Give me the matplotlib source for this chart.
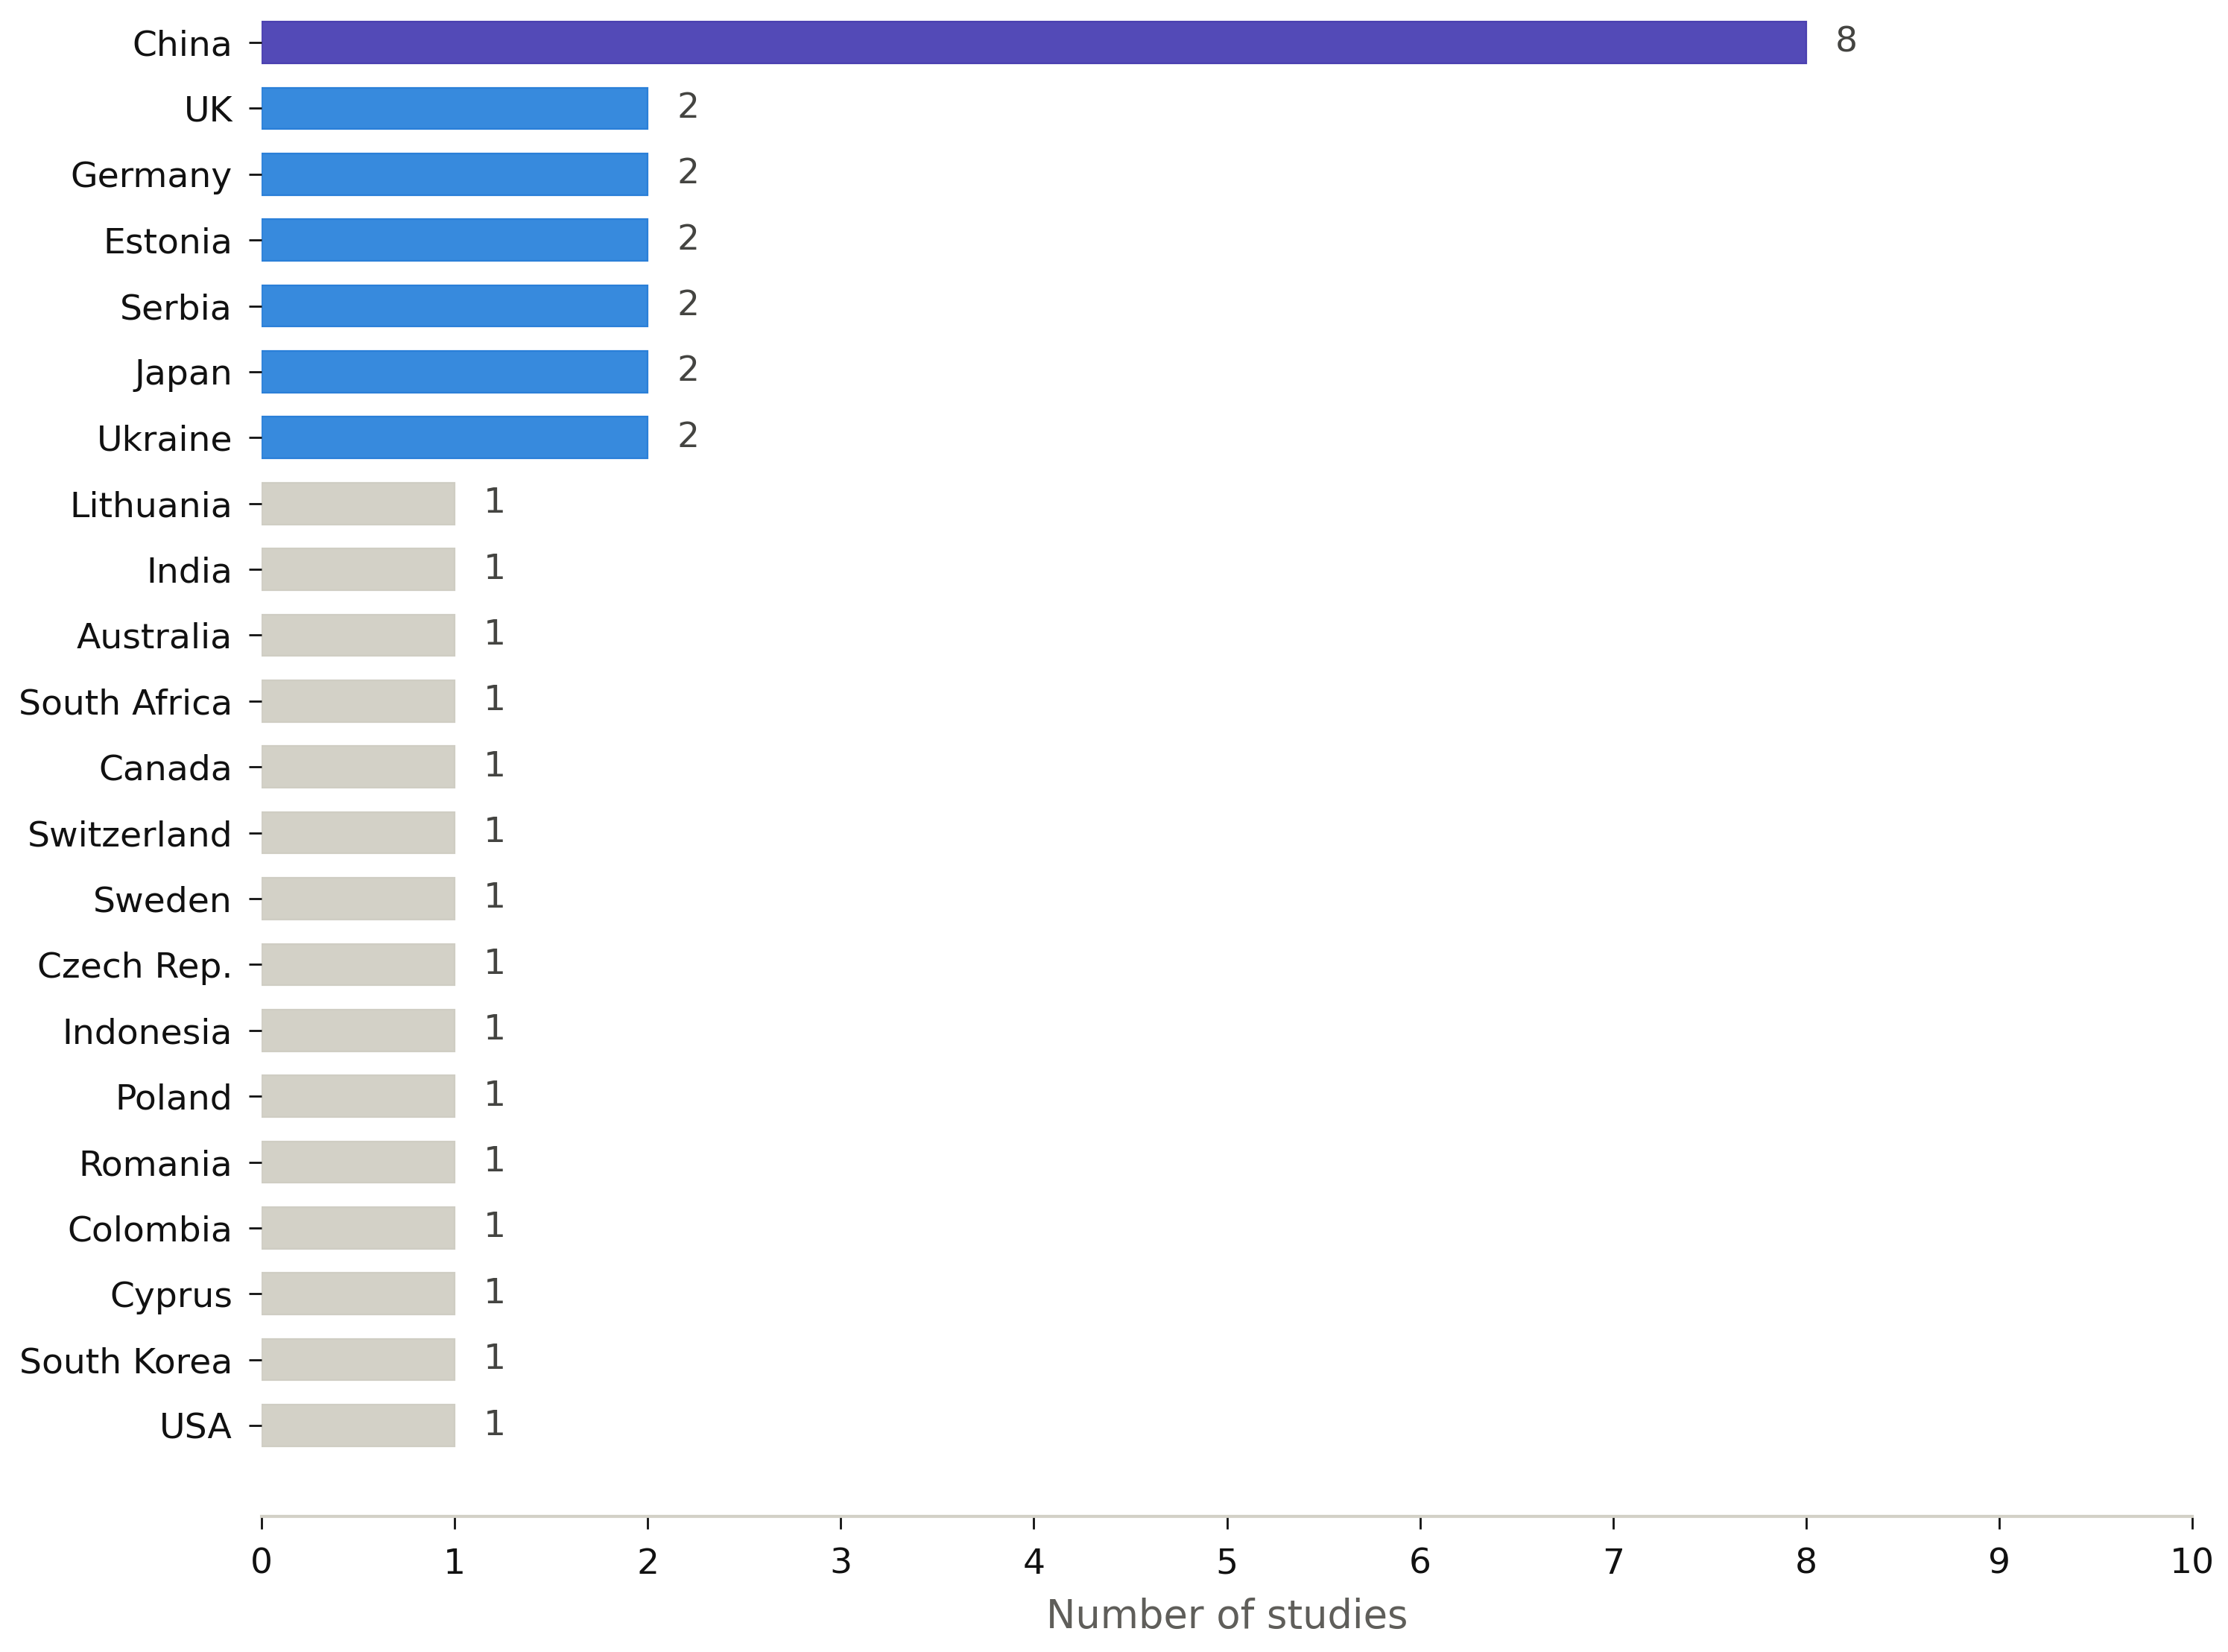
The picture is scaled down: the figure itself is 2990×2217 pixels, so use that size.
import matplotlib
matplotlib.use("Agg")
import matplotlib.pyplot as plt

countries = ["China", "UK", "Germany", "Estonia", "Serbia", "Japan", "Ukraine",
             "Lithuania", "India", "Australia", "South Africa", "Canada",
             "Switzerland", "Sweden", "Czech Rep.", "Indonesia", "Poland",
             "Romania", "Colombia", "Cyprus", "South Korea", "USA"]
studies = [8, 2, 2, 2, 2, 2, 2, 1, 1, 1, 1, 1, 1, 1, 1, 1, 1, 1, 1, 1, 1, 1]
x_ticks = [0, 1, 2, 3, 4, 5, 6, 7, 8, 9, 10]

def color_for(v):
    if v >= 8:
        return "#534AB7", "#4A40B0"
    if v >= 2:
        return "#378ADD", "#2A7FD8"
    return "#D3D1C7", "#CFCDC3"

plt.rcParams["font.family"] = ["DejaVu Sans"]
fig = plt.figure(figsize=(14.95, 11.085), dpi=200)
ax = fig.add_axes([351/2990, 1 - 2035/2217, (2942-351)/2990, (2035-4)/2217])

ypos = list(range(len(countries)))
for y, v in zip(ypos, studies):
    fc, ec = color_for(v)
    ax.barh(y, v, height=0.63, color=fc, edgecolor=ec, linewidth=0.8)
    ax.text(v + 0.15, y, str(v), ha="left", va="center", fontsize=17, color="#444441")

ax.set_yticks(ypos)
ax.set_yticklabels(countries, fontsize=17, color="#111111")
ax.set_xticks(x_ticks)
ax.set_xticklabels([str(t) for t in x_ticks], fontsize=17, color="#111111")
ax.set_xlim(0, 10)
ax.set_ylim(len(countries) - 1 + 1.38, -0.6)

for s in ["top", "right", "left"]:
    ax.spines[s].set_visible(False)
ax.spines["bottom"].set_color("#D3D1C7")
ax.spines["bottom"].set_linewidth(1.5)
ax.tick_params(axis="y", length=6, width=1.0, color="#111111", pad=8)
ax.tick_params(axis="x", length=6, width=1.0, color="#111111", pad=9)
ax.set_xlabel("Number of studies", fontsize=19, color="#5F5E5A", labelpad=8)

fig.savefig("out.png", dpi=200, facecolor="white")
